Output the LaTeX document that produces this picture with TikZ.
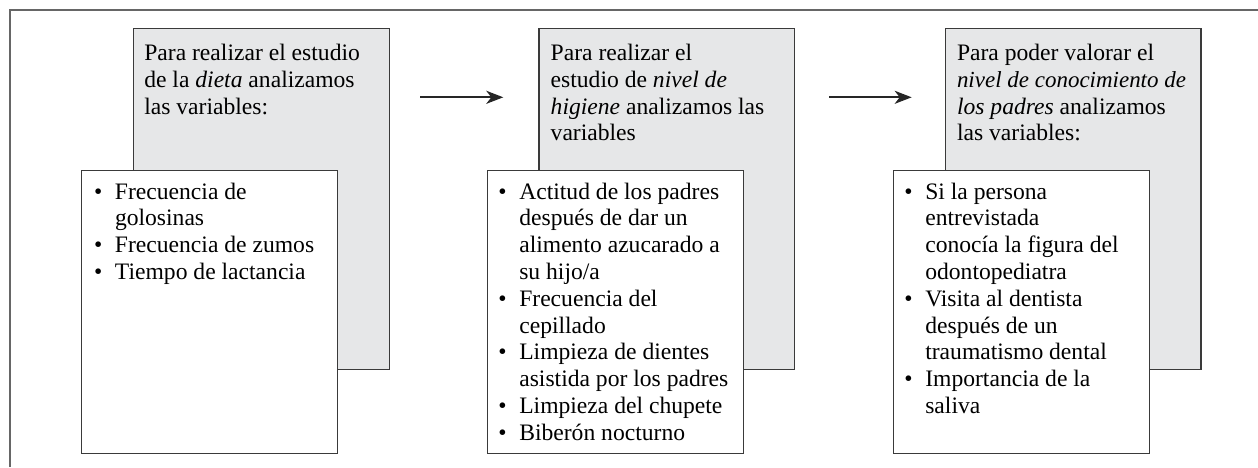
\documentclass[tikz,border=0pt]{standalone}
\usepackage{fontspec}
\setmainfont{Liberation Serif}
\usetikzlibrary{arrows.meta}
\definecolor{boxgray}{HTML}{E6E7E8}
\definecolor{edgec}{HTML}{3A3A3A}
\definecolor{framec}{HTML}{666666}
\newcommand{\bul}{\makebox[21pt][l]{\textbullet}}
\tikzset{
  backbox/.style={draw=edgec, line width=1.4pt, fill=boxgray, anchor=north west, inner sep=0pt, minimum width=255.6pt, minimum height=341pt},
  frontbox/.style={draw=edgec, line width=1.4pt, fill=white, anchor=north west, inner sep=0pt, minimum width=256pt, minimum height=283pt},
  txt/.style={anchor=base west, inner sep=0pt, outer sep=0pt, font=\fontsize{23.6}{26.8}\selectfont},
  arrowline/.style={draw=black!85, line width=2.2pt, -{Stealth[length=17pt,width=13pt,inset=5pt]}},
  framel/.style={draw=framec, line width=2pt}
}
\begin{document}
\begin{tikzpicture}[x=1pt,y=-1pt]
\useasboundingbox (0,0) rectangle (1258,467);
\draw[framel] (10,467) -- (10,10) -- (1258,10);

% column 1
\node[backbox] (g1) at (133,28) {};
\node[frontbox] (w1) at (81,170) {};
\node[txt] (t1) at (144.3,60.5) {\begin{tabular}[t]{@{}l@{}}
Para realizar el estudio\\
de la \textit{dieta} analizamos\\
las variables:
\end{tabular}};
\node[txt] (l1) at (94,199) {\begin{tabular}[t]{@{}l@{}l@{}}
\bul & Frecuencia de\\
 & golosinas\\
\bul & Frecuencia de zumos\\
\bul & Tiempo de lactancia
\end{tabular}};

% column 2
\node[backbox] (g2) at (538.3,28) {};
\node[frontbox] (w2) at (487,170) {};
\node[txt] (t2) at (550.7,60.5) {\begin{tabular}[t]{@{}l@{}}
Para realizar el\\
estudio de \textit{nivel de}\\
\textit{higiene} analizamos las\\
variables
\end{tabular}};
\node[txt] (l2) at (498.3,199) {\begin{tabular}[t]{@{}l@{}l@{}}
\bul & Actitud de los padres\\
 & después de dar un\\
 & alimento azucarado a\\
 & su hijo/a\\
\bul & Frecuencia del\\
 & cepillado\\
\bul & Limpieza de dientes\\
 & asistida por los padres\\
\bul & Limpieza del chupete\\
\bul & Biberón nocturno
\end{tabular}};

% column 3
\node[backbox] (g3) at (944.7,28) {};
\node[frontbox] (w3) at (893,170) {};
\node[txt] (t3) at (957,60.5) {\begin{tabular}[t]{@{}l@{}}
Para poder valorar el\\
\resizebox{229pt}{!}{\textit{nivel de conocimiento de}}\\
\textit{los padres} analizamos\\
las variables:
\end{tabular}};
\node[txt] (l3) at (904.3,199) {\begin{tabular}[t]{@{}l@{}l@{}}
\bul & Si la persona\\
 & entrevistada\\
 & conocía la figura del\\
 & odontopediatra\\
\bul & Visita al dentista\\
 & después de un\\
 & traumatismo dental\\
\bul & Importancia de la\\
 & saliva
\end{tabular}};

% arrows
\coordinate (a1s) at (420,97.3);
\coordinate (a1e) at (503.3,97.3);
\coordinate (a2s) at (829.3,97.3);
\coordinate (a2e) at (911.7,97.3);
\draw[arrowline] (a1s) -- (a1e);
\draw[arrowline] (a2s) -- (a2e);
\end{tikzpicture}
\end{document}
